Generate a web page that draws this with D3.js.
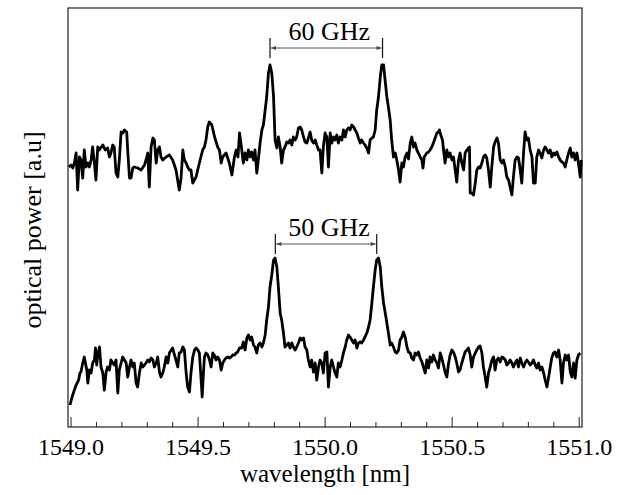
<!DOCTYPE html>
<html>
<head>
<meta charset="utf-8">
<script src="https://cdn.jsdelivr.net/npm/d3@7"></script>
<style>
  body { margin: 0; background: #fff; }
  text { font-family: "Liberation Serif", "Times New Roman", serif; fill: #000; }
</style>
</head>
<body>
<div id="chart"></div>
<script>
// upper spectrum (60 GHz spacing): [wavelength nm, power a.u.]
const upperTrace = [
  [1548.993,260],[1549.002,262],[1549.009,259],[1549.015,264],[1549.022,274],[1549.028,237],[1549.035,270],[1549.041,267],[1549.048,249],[1549.054,277],
  [1549.061,260],[1549.068,264],[1549.074,260],[1549.081,267],[1549.087,280],[1549.094,264],[1549.100,247],[1549.107,280],[1549.113,277],[1549.127,282],
  [1549.137,277],[1549.146,279],[1549.153,270],[1549.159,274],[1549.166,282],[1549.172,280],[1549.179,254],[1549.186,250],[1549.192,267],[1549.199,295],
  [1549.206,294],[1549.212,297],[1549.221,295],[1549.225,277],[1549.232,249],[1549.238,249],[1549.245,259],[1549.251,260],[1549.264,259],[1549.278,257],
  [1549.291,262],[1549.297,267],[1549.304,274],[1549.310,240],[1549.317,280],[1549.324,289],[1549.330,287],[1549.337,264],[1549.343,277],[1549.350,280],
  [1549.356,270],[1549.363,267],[1549.376,270],[1549.389,272],[1549.402,267],[1549.415,257],[1549.428,237],[1549.435,249],[1549.442,277],[1549.448,267],
  [1549.455,264],[1549.461,260],[1549.468,257],[1549.474,257],[1549.481,244],[1549.494,250],[1549.507,264],[1549.520,277],[1549.527,280],[1549.533,287],
  [1549.540,300],[1549.546,305],[1549.556,302],[1549.567,290],[1549.579,280],[1549.586,277],[1549.593,264],[1549.599,270],[1549.612,274],[1549.625,264],
  [1549.635,252],[1549.645,270],[1549.652,277],[1549.659,270],[1549.665,294],
  [1549.674,277],[1549.680,264],[1549.687,274],[1549.694,267],[1549.700,277],[1549.707,270],[1549.713,275],[1549.720,267],[1549.726,277],[1549.733,254],
  [1549.739,267],[1549.746,284],[1549.753,297],[1549.759,302],[1549.766,317],[1549.772,330],[1549.779,354],[1549.785,362],[1549.792,354],[1549.799,330],
  [1549.805,287],[1549.812,279],[1549.818,290],[1549.825,280],[1549.831,264],[1549.838,277],[1549.844,280],[1549.851,285],[1549.858,284],[1549.864,287],
  [1549.871,282],[1549.877,290],[1549.884,287],[1549.890,290],[1549.897,299],[1549.904,300],[1549.910,297],[1549.917,290],[1549.923,285],[1549.930,284],
  [1549.936,289],[1549.943,295],[1549.949,287],[1549.956,284],[1549.963,287],[1549.969,282],[1549.976,277],[1549.982,277],[1549.989,254],[1549.995,280],
  [1550.002,294],[1550.009,290],[1550.015,260],[1550.022,294],[1550.028,284],[1550.035,290],[1550.041,287],[1550.048,292],[1550.054,284],[1550.061,290],
  [1550.068,287],[1550.074,297],[1550.081,290],[1550.087,297],[1550.094,299],[1550.100,297],[1550.107,302],[1550.114,300],[1550.120,297],[1550.127,294],
  [1550.133,289],[1550.140,284],[1550.146,287],[1550.153,284],[1550.159,282],[1550.166,279],[1550.173,274],[1550.179,287],[1550.186,289],[1550.192,290],
  [1550.199,297],[1550.205,317],[1550.212,330],[1550.219,350],[1550.225,362],[1550.232,362],[1550.238,347],[1550.245,330],[1550.251,320],[1550.258,307],
  [1550.264,287],[1550.271,270],[1550.278,274],[1550.284,267],[1550.291,257],[1550.297,245],[1550.304,264],[1550.310,260],[1550.317,270],[1550.324,274],
  [1550.330,268],[1550.337,284],[1550.343,290],[1550.350,280],[1550.356,284],
  [1550.363,277],[1550.369,274],[1550.376,270],[1550.383,267],[1550.387,259],[1550.392,270],[1550.402,274],[1550.409,275],[1550.415,277],[1550.422,280],
  [1550.428,284],[1550.435,289],[1550.442,294],[1550.448,295],[1550.452,297],[1550.457,292],[1550.464,287],[1550.468,277],[1550.474,264],[1550.481,277],
  [1550.488,270],[1550.494,274],[1550.501,267],[1550.507,270],[1550.514,257],[1550.520,245],[1550.527,267],[1550.533,274],[1550.540,264],[1550.547,257],
  [1550.553,274],[1550.560,277],[1550.566,279],[1550.570,280],[1550.573,234],[1550.579,234],[1550.586,232],[1550.593,244],[1550.599,257],[1550.606,260],
  [1550.612,259],[1550.619,264],[1550.625,270],[1550.632,272],[1550.638,269],[1550.645,257],[1550.652,240],[1550.658,260],[1550.665,280],[1550.671,285],
  [1550.678,289],[1550.684,284],[1550.691,267],[1550.698,264],[1550.704,267],[1550.711,260],[1550.717,250],[1550.724,247],[1550.730,240],[1550.737,232],
  [1550.743,250],[1550.750,267],[1550.757,270],[1550.763,269],[1550.770,257],[1550.776,244],[1550.783,274],[1550.789,295],[1550.796,287],[1550.802,289],
  [1550.809,277],[1550.816,270],[1550.822,244],[1550.829,244],[1550.835,270],[1550.842,277],[1550.848,274],[1550.855,269],[1550.862,277],[1550.868,280],
  [1550.875,277],[1550.881,274],[1550.888,277],[1550.894,270],[1550.901,274],[1550.907,272],[1550.914,275],[1550.921,270],[1550.927,267],[1550.934,265],
  [1550.940,264],[1550.947,260],[1550.953,267],[1550.960,274],[1550.967,279],[1550.973,270],[1550.980,274],[1550.986,267],[1550.993,274],[1550.999,264],
  [1551.006,250],[1551.010,267]
];

// lower spectrum (50 GHz spacing)
const lowerTrace = [
  [1548.998,22],[1549.006,30],[1549.015,37],[1549.022,42],[1549.032,47],[1549.037,54],[1549.041,55],[1549.048,64],[1549.054,70],[1549.058,65],
  [1549.064,57],[1549.068,44],[1549.074,57],[1549.081,54],[1549.087,64],[1549.094,67],[1549.098,79],[1549.103,62],[1549.107,72],[1549.114,80],
  [1549.120,60],[1549.127,54],[1549.133,37],[1549.140,55],[1549.146,60],[1549.153,57],[1549.159,67],[1549.166,64],[1549.173,62],[1549.179,67],
  [1549.186,34],[1549.192,57],[1549.199,64],[1549.205,70],[1549.212,67],[1549.219,64],[1549.225,50],[1549.232,60],[1549.238,67],[1549.245,60],
  [1549.251,64],[1549.258,44],[1549.264,40],[1549.271,54],[1549.278,64],[1549.284,60],[1549.291,62],[1549.297,64],[1549.304,67],[1549.310,65],
  [1549.317,69],[1549.324,67],[1549.330,60],[1549.337,64],[1549.343,70],[1549.350,55],[1549.356,50],[1549.363,54],[1549.369,60],[1549.376,70],
  [1549.383,64],[1549.389,74],[1549.396,77],[1549.402,79],[1549.409,72],[1549.415,67],[1549.422,60],[1549.428,74],[1549.435,75],[1549.442,80],
  [1549.448,77],[1549.455,54],[1549.461,40],[1549.468,35],[1549.474,54],[1549.481,70],[1549.488,77],[1549.494,79],[1549.501,77],[1549.507,74],
  [1549.514,47],[1549.518,30],[1549.523,54],[1549.527,70],[1549.533,74],[1549.540,72],[1549.547,67],[1549.553,60],[1549.560,74],[1549.566,72],
  [1549.573,67],[1549.579,70],[1549.586,67],[1549.593,57],[1549.599,64],[1549.606,67],[1549.612,69],[1549.619,70],[1549.625,69],[1549.632,70],
  [1549.638,72],[1549.645,72],[1549.652,74],[1549.658,75],[1549.665,79],
  [1549.674,79],[1549.680,85],[1549.687,77],[1549.694,89],[1549.700,92],[1549.707,87],[1549.713,90],[1549.720,82],[1549.726,80],[1549.733,74],
  [1549.739,82],[1549.746,84],[1549.753,80],[1549.759,84],[1549.766,92],[1549.772,107],[1549.779,120],[1549.785,140],[1549.792,152],[1549.799,167],
  [1549.805,169],[1549.812,160],[1549.818,140],[1549.825,114],[1549.831,107],[1549.838,94],[1549.844,80],[1549.851,82],[1549.858,84],[1549.864,79],
  [1549.871,84],[1549.877,80],[1549.884,77],[1549.890,80],[1549.897,84],[1549.904,89],[1549.910,87],[1549.917,89],[1549.923,80],[1549.930,77],
  [1549.936,67],[1549.943,60],[1549.949,67],[1549.956,55],[1549.963,64],[1549.969,47],[1549.976,60],[1549.982,67],[1549.989,64],[1549.995,54],
  [1550.002,74],[1550.009,75],[1550.015,40],[1550.022,60],[1550.028,67],[1550.035,60],[1550.041,54],[1550.048,50],[1550.054,64],[1550.061,60],
  [1550.068,67],[1550.074,74],[1550.081,80],[1550.087,87],[1550.094,92],[1550.100,90],[1550.107,87],[1550.114,84],[1550.120,87],[1550.127,79],
  [1550.133,84],[1550.140,85],[1550.146,84],[1550.153,87],[1550.159,90],[1550.166,94],[1550.173,100],[1550.179,107],[1550.186,124],[1550.192,140],
  [1550.199,157],[1550.205,167],[1550.212,169],[1550.219,160],[1550.225,140],[1550.232,124],[1550.238,115],[1550.245,104],[1550.251,94],[1550.258,82],
  [1550.264,84],[1550.271,80],[1550.278,75],[1550.284,74],[1550.291,77],[1550.297,87],[1550.304,90],[1550.310,95],[1550.317,90],[1550.324,80],
  [1550.330,75],[1550.337,74],[1550.343,69],[1550.350,67],[1550.356,74],
  [1550.363,72],[1550.369,75],[1550.376,69],[1550.383,65],[1550.389,60],[1550.396,54],[1550.402,67],[1550.409,59],[1550.415,70],[1550.422,65],
  [1550.428,72],[1550.435,67],[1550.442,64],[1550.448,59],[1550.455,74],[1550.461,69],[1550.468,62],[1550.474,55],[1550.481,50],[1550.488,64],
  [1550.494,72],[1550.501,77],[1550.507,75],[1550.514,70],[1550.520,64],[1550.527,55],[1550.533,57],[1550.540,64],[1550.547,70],[1550.553,75],
  [1550.560,77],[1550.566,79],[1550.573,72],[1550.579,60],[1550.586,70],[1550.593,74],[1550.599,77],[1550.606,80],[1550.612,81],[1550.619,74],
  [1550.625,60],[1550.632,50],[1550.638,40],[1550.645,54],[1550.652,60],[1550.658,67],[1550.665,70],[1550.671,57],[1550.678,67],[1550.684,69],
  [1550.691,65],[1550.698,70],[1550.704,69],[1550.711,67],[1550.717,62],[1550.724,64],[1550.730,67],[1550.737,64],[1550.743,60],[1550.750,64],
  [1550.757,67],[1550.763,60],[1550.770,69],[1550.776,64],[1550.783,60],[1550.789,64],[1550.796,67],[1550.802,65],[1550.809,62],[1550.816,64],
  [1550.822,67],[1550.829,62],[1550.835,59],[1550.842,64],[1550.848,57],[1550.855,60],[1550.862,54],[1550.868,47],[1550.875,40],[1550.881,49],
  [1550.888,60],[1550.894,69],[1550.901,74],[1550.907,75],[1550.914,70],[1550.921,77],[1550.927,67],[1550.934,44],[1550.940,64],[1550.947,72],
  [1550.953,67],[1550.960,72],[1550.967,55],[1550.973,50],[1550.980,64],[1550.986,49],[1550.993,67],[1550.999,72],[1551.006,74]
];

const majorTicks = [1549.0, 1549.5, 1550.0, 1550.5, 1551.0];
const minorTicks = [1549.1, 1549.2, 1549.3, 1549.4, 1549.6, 1549.7, 1549.8, 1549.9,
                    1550.1, 1550.2, 1550.3, 1550.4, 1550.6, 1550.7, 1550.8, 1550.9];

// channel spacing markers: label, left / right peak, level of the arrow
const spacingLabels = ["60 GHz", "50 GHz"];
const spacingFrom   = [1549.785, 1549.806];
const spacingTo     = [1550.228, 1550.205];
const spacingLevel  = [379, 183];

// set the dimensions and margins of the graph
var margin = {top: 8, right: 41, bottom: 68, left: 68},
    width = 623 - margin.left - margin.right,
    height = 495 - margin.top - margin.bottom;

const svg = d3.select("#chart")
  .append("svg")
    .attr("width", width + margin.left + margin.right)
    .attr("height", height + margin.top + margin.bottom)
  .append("g")
    .attr("transform", "translate(" + margin.left + "," + margin.top + ")");

var x = d3.scaleLinear()
    .domain([1548.99, 1551.013])
    .range([0, width]);

var y = d3.scaleLinear()
    .domain([0, 419])
    .range([height, 0]);

// ticks point inward from the bottom edge
svg.append("g")
    .attr("transform", "translate(0," + height + ")")
    .call(d3.axisBottom(x).tickValues(minorTicks).tickSize(-5).tickFormat(""))
    .call(g => g.select(".domain").remove());

const xAxis = svg.append("g")
    .attr("transform", "translate(0," + height + ")")
    .call(d3.axisBottom(x).tickValues(majorTicks).tickSize(-10).tickPadding(11).tickFormat(d3.format(".1f")))
    .call(g => g.select(".domain").remove());

xAxis.selectAll("text")
    .style("font-size", "24px")
    .style("font-family", "'Liberation Serif', serif")
    .attr("fill", "#000");
svg.selectAll(".tick line").attr("stroke", "#222");

// frame
svg.append("rect")
    .attr("width", width)
    .attr("height", height)
    .attr("fill", "none")
    .attr("stroke", "#222")
    .attr("stroke-width", 1.2);

// spectra
var line = d3.line()
    .x(d => x(d[0]))
    .y(d => y(d[1]));

[upperTrace, lowerTrace].forEach(trace => {
  svg.append("path")
      .datum(trace)
      .attr("fill", "none")
      .attr("stroke", "#000")
      .attr("stroke-width", 2.8)
      .attr("stroke-linejoin", "round")
      .attr("d", line);
});

// arrowheads
svg.append("defs").append("marker")
    .attr("id", "head")
    .attr("viewBox", "0 0 10 10")
    .attr("refX", 10).attr("refY", 5)
    .attr("markerWidth", 7).attr("markerHeight", 5)
    .attr("orient", "auto-start-reverse")
    .append("path")
      .attr("d", "M0,1L10,5L0,9z")
      .attr("fill", "#444");

spacingLabels.forEach((label, i) => {
  var x0 = x(spacingFrom[i]), x1 = x(spacingTo[i]), ya = y(spacingLevel[i]);
  // end bars
  [x0, x1].forEach(xb => {
    svg.append("line")
        .attr("x1", xb).attr("x2", xb)
        .attr("y1", ya - 10).attr("y2", ya + 10)
        .attr("stroke", "#111").attr("stroke-width", 1.2);
  });
  svg.append("line")
      .attr("x1", x0 + 1).attr("x2", x1 - 1)
      .attr("y1", ya).attr("y2", ya)
      .attr("stroke", "#555").attr("stroke-width", 1)
      .attr("marker-start", "url(#head)")
      .attr("marker-end", "url(#head)");
  svg.append("text")
      .attr("x", (x0 + x1) / 2 + 3)
      .attr("y", ya - 8)
      .attr("text-anchor", "middle")
      .style("font-size", "26px")
      .text(label);
});

// axis titles
svg.append("text")
    .attr("x", width / 2)
    .attr("y", height + 55)
    .attr("text-anchor", "middle")
    .style("font-size", "25px")
    .text("wavelength [nm]");

svg.append("text")
    .attr("transform", "translate(" + (41 - margin.left) + "," + (230 - margin.top) + ") rotate(-90)")
    .attr("text-anchor", "middle")
    .style("font-size", "26px")
    .text("optical power [a.u]");
</script>
</body>
</html>
